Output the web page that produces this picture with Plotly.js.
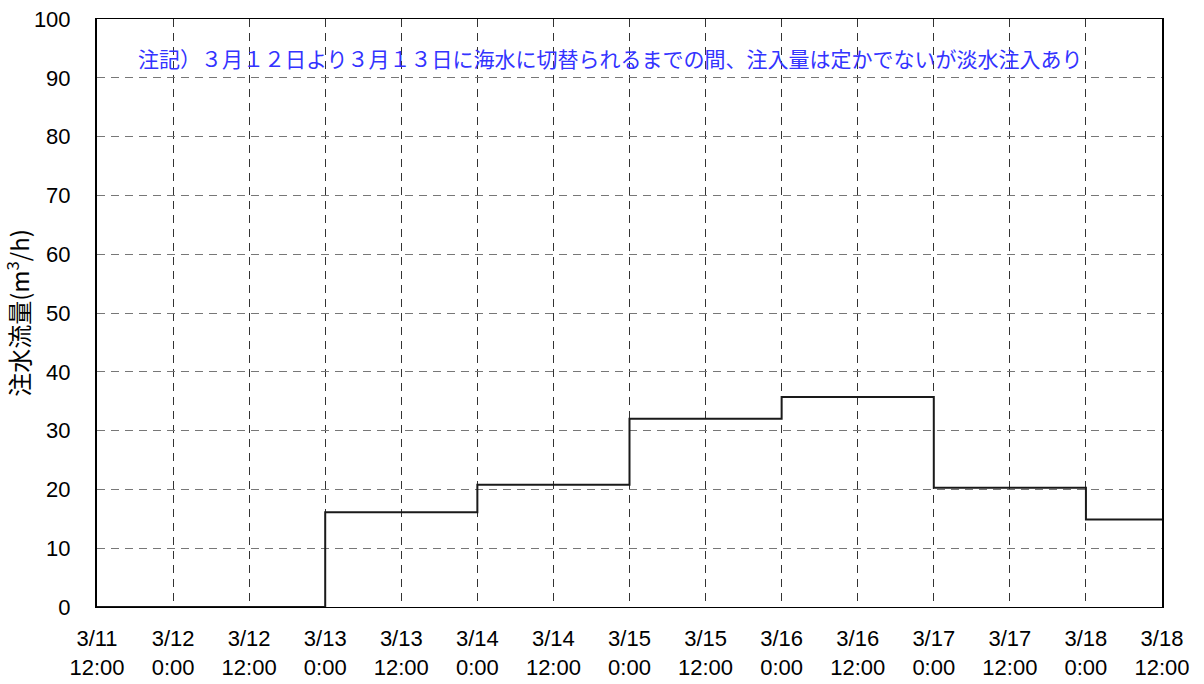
<!DOCTYPE html>
<html>
<head>
<meta charset="utf-8">
<script src="https://cdn.plot.ly/plotly-3.0.1.min.js"></script>
<style>html,body{margin:0;padding:0;background:#fff;}#chart{width:1204px;height:684px;}</style>
</head>
<body>
<div id="chart"></div>
<script>
// step changes (time of change, flow rate m3/h)
const stepTimes = ["2011-03-11 12:00", "2011-03-13 00:00", "2011-03-14 00:00", "2011-03-15 00:00", "2011-03-16 00:00", "2011-03-17 00:00", "2011-03-18 00:00", "2011-03-18 12:00"];
const flowValues = [0, 16.1, 20.8, 32.0, 35.7, 20.3, 14.9, 14.9];

const tickTimes = ["2011-03-11 12:00", "2011-03-12 00:00", "2011-03-12 12:00", "2011-03-13 00:00", "2011-03-13 12:00", "2011-03-14 00:00", "2011-03-14 12:00", "2011-03-15 00:00", "2011-03-15 12:00", "2011-03-16 00:00", "2011-03-16 12:00", "2011-03-17 00:00", "2011-03-17 12:00", "2011-03-18 00:00", "2011-03-18 12:00"];
const tickLabels = ["3/11<br>12:00", "3/12<br>0:00", "3/12<br>12:00", "3/13<br>0:00", "3/13<br>12:00", "3/14<br>0:00", "3/14<br>12:00", "3/15<br>0:00", "3/15<br>12:00", "3/16<br>0:00", "3/16<br>12:00", "3/17<br>0:00", "3/17<br>12:00", "3/18<br>0:00", "3/18<br>12:00"];
const yTicks = [0, 10, 20, 30, 40, 50, 60, 70, 80, 90, 100];

const yTitle = "注水流量(m<sup>3</sup>/h)";
const noteText = "注記）３月１２日より３月１３日に海水に切替られるまでの間、注入量は定かでないが淡水注入あり";

const trace = {
  x: stepTimes,
  y: flowValues,
  type: "scatter",
  mode: "lines",
  line: {shape: "hv", color: "#1a1a1a", width: 2},
  hoverinfo: "skip"
};

const layout = {
  width: 1204,
  height: 684,
  margin: {l: 97, r: 42, t: 19, b: 77},
  paper_bgcolor: "#fff",
  plot_bgcolor: "#fff",
  showlegend: false,
  font: {family: "Liberation Sans, Arial, sans-serif", color: "#000"},
  xaxis: {
    type: "date",
    range: [tickTimes[0], tickTimes[tickTimes.length - 1]],
    tickmode: "array",
    tickvals: tickTimes,
    ticktext: tickLabels,
    tickfont: {size: 22, family: "Liberation Sans, Arial, sans-serif"},
    ticks: "outside",
    ticklen: 12,
    tickcolor: "rgba(0,0,0,0)",
    showgrid: true,
    gridcolor: "#333",
    gridwidth: 1,
    griddash: "8px,6px",
    showline: true,
    linecolor: "#000",
    linewidth: 1,
    mirror: true,
    zeroline: false,
    fixedrange: true
  },
  yaxis: {
    range: [0, 100],
    tickmode: "array",
    tickvals: yTicks,
    tickfont: {size: 22, family: "Liberation Sans, Arial, sans-serif"},
    ticks: "outside",
    ticklen: 20,
    tickcolor: "rgba(0,0,0,0)",
    showgrid: true,
    gridcolor: "#777",
    gridwidth: 1,
    griddash: "8px,6px",
    showline: true,
    linecolor: "#000",
    linewidth: 2,
    mirror: true,
    zeroline: false,
    title: {text: yTitle, font: {size: 24, family: "Noto Sans CJK JP, sans-serif"}, standoff: 6},
    fixedrange: true
  },
  annotations: [{
    xref: "paper", yref: "paper",
    x: (610 - 97) / (1162 - 97), y: (607 - 58) / (607 - 19),
    xanchor: "center", yanchor: "middle",
    text: noteText,
    showarrow: false,
    font: {size: 21, color: "#3333ff", family: "Noto Sans CJK JP, sans-serif"}
  }]
};

Plotly.newPlot("chart", [trace], layout, {displayModeBar: false, staticPlot: true});
</script>
</body>
</html>
